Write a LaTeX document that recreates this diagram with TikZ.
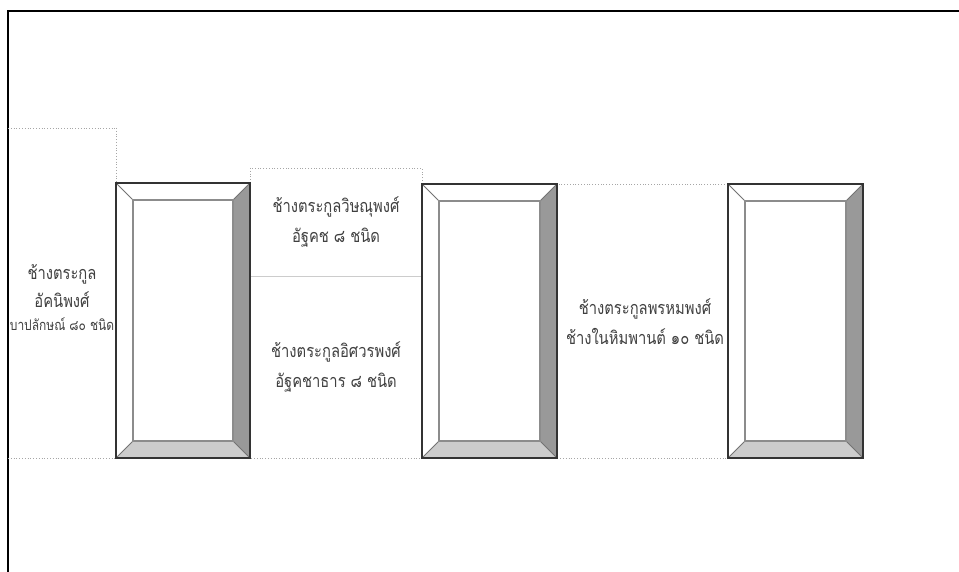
\documentclass[tikz,border=0pt]{standalone}
\usepackage{fontspec}
\newfontfamily\thaifont[Script=Thai, FakeStretch=0.82]{Loma}
\usetikzlibrary{positioning}

\tikzset{
  thaitext/.style={font=\thaifont\fontsize{9}{15}\selectfont, align=center, text=black!75},
  smalltext/.style={font=\thaifont\fontsize{7.3}{10}\selectfont, text=black!75},
  dotbox/.style={draw=black!35, densely dotted, line width=.4pt},
}

% bevelled frame: x1,y1,x2,y2 (pixel units)
\newcommand{\bevelframe}[4]{%
  \fill[white] (#1,#2) -- (#3,#2) -- (#3-17,#2+17) -- (#1+17,#2+17) -- cycle;
  \fill[white] (#1,#2) -- (#1+17,#2+17) -- (#1+17,#4-17) -- (#1,#4) -- cycle;
  \fill[black!40] (#3,#2) -- (#3,#4) -- (#3-17,#4-17) -- (#3-17,#2+17) -- cycle;
  \fill[black!20] (#1,#4) -- (#3,#4) -- (#3-17,#4-17) -- (#1+17,#4-17) -- cycle;
  \draw[black!55, line width=.5pt] (#1,#2) -- (#1+17,#2+17) (#3,#2) -- (#3-17,#2+17)
     (#1,#4) -- (#1+17,#4-17) (#3,#4) -- (#3-17,#4-17);
  \draw[black!45, line width=.6pt] (#1+17,#2+17) rectangle (#3-17,#4-17);
  \draw[black!80, line width=.6pt] (#1,#2) rectangle (#3,#4);
}

\begin{document}
\begin{tikzpicture}[x=0.5pt, y=-0.5pt]
  \useasboundingbox (0,0) rectangle (959,572);
  \fill[white] (0,0) rectangle (959,572);

  % outer frame
  \draw[line width=1pt] (959,11) -- (8,11) -- (8,572);

  % dotted text panels
  \draw[dotbox] (8,128) -- (116,128) (116,128) -- (116,458) (8,458) -- (116,458);
  \draw[dotbox] (250,168) rectangle (422,458);
  \draw[black!20, line width=.4pt] (250,276) -- (422,276);
  \draw[dotbox] (557,184) rectangle (728,458);

  % frames
  \bevelframe{116}{183}{250}{458}
  \bevelframe{422}{184}{557}{458}
  \bevelframe{728}{184}{863}{458}

  % texts
  \node[thaitext] (agni) at (62,286) {ช้างตระกูล\\[-1pt]อัคนิพงศ์};
  \node[smalltext] (agnisub) at (62,324) {บาปลักษณ์ ๘๐ ชนิด};
  \node[thaitext] (vishnu) at (336,222) {ช้างตระกูลวิษณุพงศ์\\อัฐคช ๘ ชนิด};
  \node[thaitext] (isvara) at (336,367) {ช้างตระกูลอิศวรพงศ์\\อัฐคชาธาร ๘ ชนิด};
  \node[thaitext] (brahma) at (645,322) {ช้างตระกูลพรหมพงศ์\\ช้างในหิมพานต์ ๑๐ ชนิด};
\end{tikzpicture}
\end{document}
